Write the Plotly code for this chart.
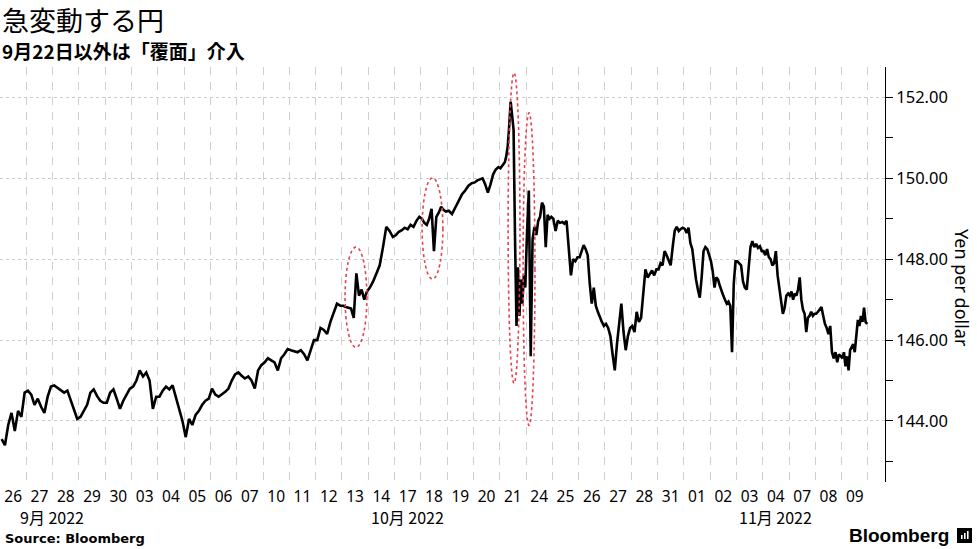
import plotly.graph_objects as go

# ---- data ----
day_labels = ["26", "27", "28", "29", "30", "03", "04", "05", "06", "07", "10", "11",
              "12", "13", "14", "17", "18", "19", "20", "21", "24", "25", "26", "27",
              "28", "31", "01", "02", "03", "04", "07", "08", "09"]
month_labels = ["9月 2022", "10月 2022", "11月 2022"]
month_label_pos = [1.98, 15.48, 29.47]
yen_ticks = [144, 146, 148, 150, 152]
yen_minor = [143, 145, 147, 149, 151]

# USD/JPY intraday values per trading day (approximate)
sep26 = [143.55, 143.40, 143.90, 144.20, 143.75, 144.25, 144.10, 144.70]
sep27 = [144.75, 144.65, 144.40, 144.55, 144.35, 144.20, 144.60, 144.85]
sep28 = [144.88, 144.82, 144.78, 144.70, 144.75, 144.50, 144.30, 144.05]
sep29 = [144.10, 144.25, 144.40, 144.70, 144.78, 144.62, 144.50, 144.45]
sep30 = [144.45, 144.70, 144.78, 144.55, 144.30, 144.50, 144.65, 144.80]
oct03 = [144.85, 145.00, 145.25, 145.10, 145.20, 145.00, 144.30, 144.60]
oct04 = [144.60, 144.75, 144.85, 144.78, 144.88, 144.60, 144.30, 144.00]
oct05 = [143.60, 144.05, 143.90, 144.15, 144.25, 144.40, 144.50, 144.55]
oct06 = [144.80, 144.65, 144.60, 144.65, 144.72, 144.80, 145.00, 145.15]
oct07 = [145.20, 145.12, 145.05, 145.10, 145.00, 144.80, 145.25, 145.38]
oct10 = [145.45, 145.55, 145.50, 145.45, 145.25, 145.55, 145.65, 145.78]
oct11 = [145.75, 145.72, 145.70, 145.75, 145.65, 145.50, 145.75, 146.00]
oct12 = [146.00, 146.30, 146.25, 146.15, 146.45, 146.70, 146.90, 146.85]
oct13 = [146.85, 146.82, 146.80, 146.78, 146.55, 147.65, 147.10, 147.25, 147.00, 147.20]
oct14 = [147.30, 147.45, 147.65, 147.85, 148.30, 148.80, 148.70, 148.55]
oct17 = [148.60, 148.68, 148.72, 148.78, 148.74, 148.85, 148.80, 148.95, 149.05]
oct18 = [149.00, 148.90, 148.85, 149.00, 149.25, 148.20, 149.05, 149.15, 149.30, 149.22, 149.18]
oct19 = [149.20, 149.12, 149.28, 149.45, 149.60, 149.70, 149.82, 149.88]
oct20 = [149.90, 149.95, 149.98, 150.00, 149.85, 149.65, 149.85, 150.10, 150.22, 150.28]
oct21 = [150.25, 150.30, 150.35, 150.40, 150.55, 150.80, 151.30, 151.90, 151.55, 151.20,
         148.50, 146.35, 147.80, 146.60, 147.50, 146.90, 147.60, 147.30]
oct24 = [148.60, 149.70, 145.60, 148.50, 148.80, 148.60, 148.95, 149.05, 149.40, 149.30,
         148.30, 149.10, 149.00, 149.05]
oct25 = [149.00, 148.70, 148.95, 148.90, 148.92, 148.88, 148.95, 148.30, 147.60, 148.00, 147.95, 148.05]
oct26 = [148.05, 148.20, 148.35, 148.25, 148.10, 147.40, 146.90, 147.30, 146.85, 146.70, 146.55, 146.45, 146.35]
oct27 = [146.40, 146.30, 146.10, 145.65, 145.25, 145.90, 146.45, 146.90, 146.20, 145.75, 146.10, 146.30]
oct28 = [146.35, 146.20, 146.70, 146.45, 146.55, 147.20, 147.75, 147.55, 147.65, 147.72, 147.60, 147.75]
oct31 = [147.75, 147.90, 147.85, 148.20, 148.10, 147.95, 147.85, 148.30, 148.70, 148.80, 148.70, 148.75, 148.78]
nov01 = [148.75, 148.65, 148.78, 148.40, 148.25, 147.85, 147.50, 147.25, 147.05, 147.55, 148.20, 148.30, 148.25, 148.10]
nov02 = [147.95, 147.70, 147.30, 147.55, 147.50, 147.35, 147.20, 147.10, 147.00, 146.90, 146.95, 146.85, 145.70, 147.40, 147.95]
nov03 = [147.95, 147.90, 147.85, 147.45, 147.30, 147.25, 147.85, 148.30, 148.45, 148.30, 148.38, 148.28, 148.32, 148.20]
nov04 = [148.20, 148.10, 148.25, 148.05, 148.00, 147.85, 147.90, 148.20, 147.60, 147.30, 147.05, 146.65, 146.80, 147.10, 147.15]
nov07 = [147.10, 147.20, 147.00, 147.15, 147.10, 147.25, 147.55, 147.00, 146.75, 146.65, 146.20, 146.55, 146.60, 146.70, 146.60, 146.65]
nov08 = [146.65, 146.70, 146.75, 146.82, 146.60, 146.40, 146.30, 146.15, 146.35, 145.70, 145.55, 145.70, 145.45, 145.65, 145.60]
nov09 = [145.55, 145.70, 145.35, 145.60, 145.25, 145.75, 145.85, 145.90, 145.70, 146.20, 146.50, 146.35, 146.60, 146.45, 146.80, 146.45, 146.40]

trading_days = [sep26, sep27, sep28, sep29, sep30, oct03, oct04, oct05, oct06, oct07,
                oct10, oct11, oct12, oct13, oct14, oct17, oct18, oct19, oct20, oct21,
                oct24, oct25, oct26, oct27, oct28, oct31, nov01, nov02, nov03, nov04,
                nov07, nov08, nov09]

# suspected intervention windows (day-axis x0, x1, yen y0, y1)
intervention_marks = [(13.12, 13.95, 145.82, 148.30),
                      (16.05, 16.84, 147.51, 150.01),
                      (19.32, 19.77, 144.93, 152.61),
                      (19.89, 20.34, 143.89, 151.62)]

# ---- build series on a trading-day axis ----
xs, ys = [], []
for i, vals in enumerate(trading_days):
    n = len(vals)
    for k, v in enumerate(vals):
        xs.append(i + (k + 0.5) / n)
        ys.append(v)

fig = go.Figure()
fig.add_trace(go.Scatter(x=xs, y=ys, mode="lines",
                         line=dict(color="#000000", width=2.6),
                         hoverinfo="skip", showlegend=False))

PLOT_TOP, PLOT_BOTTOM = 67, 482
H = PLOT_BOTTOM - PLOT_TOP


def py(pixel_y):
    return (PLOT_BOTTOM - pixel_y) / H


shapes = []
for x0, x1, y0, y1 in intervention_marks:
    shapes.append(dict(type="circle", xref="x", yref="y", x0=x0, x1=x1, y0=y0, y1=y1,
                       line=dict(color="#e5414f", width=1.6, dash="dot"), layer="above"))

# Bloomberg logo block
shapes.append(dict(type="rect", xref="paper", yref="paper",
                   x0=957 / 885, x1=972 / 885, y0=py(543), y1=py(528),
                   line=dict(width=0), fillcolor="#000000"))
for bx, btop in [(961, 535), (964, 533), (967, 531)]:
    shapes.append(dict(type="rect", xref="paper", yref="paper",
                       x0=bx / 885, x1=(bx + 1.6) / 885, y0=py(539), y1=py(btop),
                       line=dict(width=0), fillcolor="#ffffff"))

annotations = [
    dict(text="急変動する円", xref="paper", yref="paper", x=0.0, y=py(19.5),
         xanchor="left", yanchor="middle", showarrow=False,
         font=dict(family="Noto Sans CJK JP", size=27, color="#000000")),
    dict(text="<b>9月22日以外は「覆面」介入</b>", xref="paper", yref="paper", x=0.0, y=py(50),
         xanchor="left", yanchor="middle", showarrow=False,
         font=dict(family="Noto Sans CJK JP", size=19, color="#000000")),
    dict(text="<b>Source: Bloomberg</b>", xref="paper", yref="paper", x=3 / 885, y=py(538),
         xanchor="left", yanchor="middle", showarrow=False,
         font=dict(family="DejaVu Sans", size=13, color="#000000")),
    dict(text="<b>Bloomberg</b>", xref="paper", yref="paper", x=951 / 885, y=py(535),
         xanchor="right", yanchor="middle", showarrow=False,
         font=dict(family="Liberation Sans", size=19, color="#000000")),
    dict(text="Yen per dollar", xref="paper", yref="paper", x=962 / 885, y=py(288),
         xanchor="center", yanchor="middle", showarrow=False, textangle=90,
         font=dict(family="Noto Sans", size=18, color="#000000")),
]
for lab, pos in zip(month_labels, month_label_pos):
    annotations.append(dict(text=lab, xref="x", yref="paper", x=pos, y=py(517),
                            xanchor="center", yanchor="middle", showarrow=False,
                            font=dict(family="Noto Sans CJK JP", size=16, color="#000000")))

fig.update_layout(
    width=977, height=549,
    margin=dict(l=0, r=977 - 885, t=PLOT_TOP, b=549 - PLOT_BOTTOM, pad=0),
    paper_bgcolor="#ffffff", plot_bgcolor="#ffffff",
    shapes=shapes, annotations=annotations,
    xaxis=dict(range=[0, 33.65], tickmode="array",
               tickvals=[i + 0.5 for i in range(len(day_labels))], ticktext=day_labels,
               ticks="", showgrid=False, showline=False, zeroline=False,
               ticklabelstandoff=3,
               tickfont=dict(family="Noto Sans", size=15.5, color="#000000"),
               minor=dict(tickmode="array", tickvals=list(range(0, 34)), showgrid=True,
                          gridcolor="#cfcfcf", griddash="8px,7px", gridwidth=1, ticks="")),
    yaxis=dict(side="right", range=[142.49, 152.755], tickmode="array",
               tickvals=yen_ticks, ticktext=[f"{v:.2f}" for v in yen_ticks],
               ticks="outside", ticklen=7, tickcolor="#000000", tickwidth=1,
               showline=True, linecolor="#000000", linewidth=1, zeroline=False,
               showgrid=True, gridcolor="#cccccc", griddash="dot", gridwidth=1,
               tickfont=dict(family="Noto Sans", size=16.5, color="#000000"),
               minor=dict(tickmode="array", tickvals=yen_minor, ticks="outside",
                          ticklen=7, tickcolor="#000000", showgrid=False)),
)

fig.write_html("out.html", config={"displayModeBar": False},
               post_script="document.body.style.margin='0';document.body.style.padding='0';")
